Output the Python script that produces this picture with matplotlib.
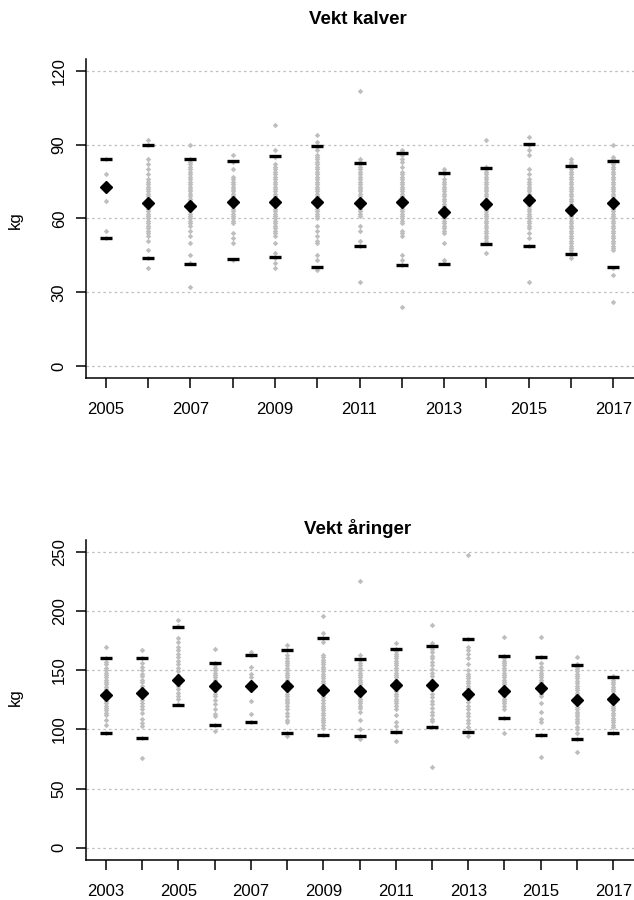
import numpy as np
import matplotlib
matplotlib.use("Agg")
import matplotlib.pyplot as plt

plt.rcParams['font.family'] = ['Liberation Sans', 'DejaVu Sans']

# =========================================================
# DONNÉES - Vekt kalver
# =========================================================

calf_years = list(range(2005, 2018))
calf_mean = [72.7, 66.3, 65.2, 66.9, 66.9, 66.6, 66.3, 66.9, 62.8, 65.8, 67.5, 63.4, 66.3]
calf_hi = [84.3, 90.0, 84.3, 83.2, 85.4, 89.3, 82.6, 86.5, 78.6, 80.4, 90.3, 81.5, 83.2]
calf_lo = [51.9, 43.9, 41.6, 43.4, 44.5, 40.4, 49.0, 41.1, 41.6, 49.5, 49.0, 45.5, 40.4]
calf_points = [
    [84, 78, 73, 67, 55, 52],
    [92, 90, 84, 82, 80, 78, 76, 75, 74, 73, 72, 71, 70, 69, 68, 67, 66, 65, 64, 63, 62, 61,
     60, 59, 58, 57, 56, 55, 54, 53, 51, 47, 44, 40],
    [90, 84, 83, 82, 81, 80, 79, 78, 77, 76, 75, 74, 73, 72, 71, 70, 69, 68, 67, 66, 65, 64,
     63, 62, 61, 60, 59, 58, 57, 55, 53, 50, 45, 42, 32],
    [86, 83, 80, 77, 76, 75, 74, 73, 72, 71, 70, 69, 68, 67, 66, 65, 64, 63, 62, 61, 60, 59,
     58, 54, 52, 50, 43],
    [98, 88, 85, 82, 81, 80, 79, 78, 77, 76, 75, 74, 73, 72, 71, 70, 69, 68, 67, 66, 65, 64,
     63, 62, 61, 60, 59, 58, 57, 56, 55, 54, 53, 50, 46, 44, 42, 40],
    [94, 91, 89, 88, 86, 85, 84, 83, 82, 81, 80, 79, 78, 77, 76, 75, 74, 73, 72, 71, 70, 69,
     68, 67, 66, 65, 64, 63, 62, 61, 60, 57, 55, 53, 51, 50, 45, 43, 40, 39],
    [112, 84, 83, 82, 81, 80, 79, 78, 77, 76, 75, 74, 73, 72, 71, 70, 69, 68, 67, 66, 65, 64,
     63, 62, 61, 57, 55, 51, 49, 34],
    [88, 87, 86, 84, 83, 81, 79, 78, 77, 76, 75, 74, 73, 72, 71, 70, 69, 68, 67, 66, 65, 64,
     63, 62, 61, 60, 59, 58, 55, 54, 53, 45, 43, 41, 24],
    [80, 79, 78, 76, 75, 74, 73, 72, 71, 70, 69, 68, 67, 66, 65, 64, 63, 62, 61, 60, 59, 58,
     57, 56, 55, 54, 50, 43, 42],
    [92, 81, 80, 79, 78, 77, 76, 75, 74, 73, 72, 71, 70, 69, 68, 67, 66, 65, 64, 63, 62, 61,
     60, 59, 58, 57, 56, 55, 54, 53, 52, 51, 50, 46],
    [93, 90, 88, 86, 80, 78, 76, 75, 74, 73, 72, 71, 70, 69, 68, 67, 66, 65, 64, 63, 62, 61,
     60, 59, 58, 57, 56, 54, 52, 49, 34],
    [84, 83, 82, 81, 80, 79, 78, 77, 76, 75, 74, 73, 72, 71, 70, 69, 68, 67, 66, 65, 64, 63,
     62, 61, 60, 59, 58, 57, 56, 55, 54, 53, 52, 51, 50, 49, 48, 47, 46, 45, 44],
    [90, 85, 84, 83, 82, 81, 80, 79, 78, 77, 76, 75, 74, 73, 72, 71, 70, 69, 68, 67, 66, 65,
     64, 63, 62, 61, 60, 59, 58, 57, 56, 55, 54, 53, 52, 51, 50, 49, 48, 47, 40, 37, 26],
]
calf_yticks = [0, 30, 60, 90, 120]

# =========================================================
# DONNÉES - Vekt åringer
# =========================================================

yearling_years = list(range(2003, 2018))
yearling_mean = [129.0, 130.7, 141.9, 136.9, 136.3, 136.3, 133.2, 132.6, 137.2, 137.2,
                 130.1, 132.6, 134.9, 124.5, 125.6]
yearling_hi = [160.5, 160.5, 186.7, 155.7, 163.0, 166.7, 177.4, 159.4, 167.6, 170.1,
               176.0, 161.9, 160.8, 154.6, 144.2]
yearling_lo = [96.6, 92.9, 120.3, 103.6, 106.2, 96.6, 95.4, 94.3, 98.0, 102.2,
               98.0, 109.5, 95.4, 91.8, 96.6]
yearling_points = [
    [170, 160, 157, 155, 152, 150, 148, 146, 144, 142, 140, 138, 136, 134, 132, 130, 128,
     126, 124, 122, 120, 118, 116, 114, 112, 108, 104, 97],
    [167, 160, 156, 153, 150, 147, 145, 142, 140, 137, 134, 131, 128, 125, 122, 120, 117,
     114, 109, 105, 103, 93, 76],
    [192, 187, 177, 174, 170, 167, 164, 161, 158, 155, 152, 149, 146, 143, 140, 137, 134,
     131, 128, 126, 121],
    [168, 156, 154, 152, 150, 148, 146, 144, 142, 140, 138, 136, 134, 132, 130, 128, 125,
     121, 117, 113, 111, 104, 99],
    [165, 163, 153, 147, 144, 140, 136, 124, 113, 106],
    [171, 167, 163, 160, 158, 156, 154, 152, 150, 148, 146, 144, 142, 140, 138, 136, 134,
     132, 130, 128, 126, 124, 122, 120, 117, 114, 111, 108, 106, 97, 94],
    [196, 181, 177, 174, 163, 161, 159, 157, 155, 153, 151, 149, 147, 145, 143, 141, 139,
     137, 135, 133, 131, 129, 127, 125, 122, 120, 118, 116, 114, 112, 110, 108, 106, 104,
     101, 95],
    [225, 163, 159, 156, 154, 152, 150, 148, 146, 144, 142, 140, 138, 136, 134, 132, 130,
     128, 126, 124, 122, 120, 118, 115, 108, 100, 94, 92],
    [173, 168, 166, 164, 162, 160, 158, 156, 154, 152, 150, 148, 146, 144, 142, 140, 138,
     136, 134, 132, 130, 128, 126, 124, 122, 120, 117, 112, 106, 103, 98, 90],
    [188, 173, 170, 168, 165, 162, 160, 157, 154, 151, 148, 145, 142, 139, 136, 133, 130,
     127, 124, 121, 118, 115, 112, 109, 107, 102, 68],
    [247, 176, 170, 167, 164, 160, 155, 150, 147, 145, 143, 141, 139, 137, 135, 133, 131,
     129, 126, 123, 120, 117, 114, 111, 108, 105, 102, 98, 94],
    [178, 162, 160, 158, 156, 154, 152, 150, 148, 146, 144, 142, 140, 138, 136, 134, 132,
     130, 128, 126, 124, 122, 120, 117, 110, 97],
    [178, 161, 156, 153, 150, 148, 146, 144, 142, 140, 138, 136, 134, 132, 130, 128, 122,
     115, 109, 106, 95, 77],
    [161, 155, 153, 151, 149, 147, 145, 143, 141, 139, 137, 135, 133, 131, 129, 127, 125,
     123, 121, 119, 117, 115, 113, 111, 109, 107, 105, 102, 100, 97, 92, 81],
    [145, 144, 142, 140, 138, 136, 134, 132, 130, 128, 126, 124, 122, 120, 118, 116, 114,
     112, 110, 108, 106, 104, 102, 97],
]
yearling_yticks = [0, 50, 100, 150, 200, 250]

# =========================================================
# FONCTION DE TRACÉ
# =========================================================


def draw_panel(ax, years, points, mean, lo, hi, yticks):
    for yr, vals in zip(years, points):
        ax.plot([yr] * len(vals), vals, linestyle="none", marker="D",
                ms=2.8, color="#BEBEBE", mec="none", zorder=2)
    ax.plot(years, hi, linestyle="none", marker="_", ms=8, mew=2.4, color="black", zorder=3)
    ax.plot(years, lo, linestyle="none", marker="_", ms=8, mew=2.4, color="black", zorder=3)
    ax.plot(years, mean, linestyle="none", marker="D", ms=6.5, color="black", zorder=4)

    span = yticks[-1] - yticks[0]
    ax.set_ylim(yticks[0] - 0.04 * span, yticks[-1] + 0.04 * span)
    xspan = years[-1] - years[0]
    ax.set_xlim(years[0] - 0.04 * xspan, years[-1] + 0.04 * xspan)

    for t in yticks:
        ax.axhline(t, color="#BEBEBE", lw=0.9, linestyle=(0, (2, 2.5)), zorder=1)

    ax.set_yticks(yticks)
    ax.set_yticklabels([str(t) for t in yticks], rotation=90, va="center")
    ax.set_xticks(years)
    ax.set_xticklabels([str(y) if (y - years[0]) % 2 == 0 else "" for y in years])

    for s in ["top", "right"]:
        ax.spines[s].set_visible(False)
    for s in ["left", "bottom"]:
        ax.spines[s].set_linewidth(1.1)
    ax.tick_params(axis="both", direction="out", length=7.5, width=1.1,
                   labelsize=12, colors="black")
    ax.tick_params(axis="x", pad=10)
    ax.tick_params(axis="y", pad=6)


fig = plt.figure(figsize=(6.34, 9.0), dpi=100)

ax1 = fig.add_axes([85.5 / 634, 1 - 378 / 900, 548 / 634, 319 / 900])
draw_panel(ax1, calf_years, calf_points, calf_mean, calf_lo, calf_hi, calf_yticks)

ax2 = fig.add_axes([85.5 / 634, 1 - 859.5 / 900, 548 / 634, 319.5 / 900])
draw_panel(ax2, yearling_years, yearling_points, yearling_mean, yearling_lo, yearling_hi,
           yearling_yticks)

fig.text(358 / 634, 1 - 20 / 900, "Vekt kalver", ha="center", va="center",
         fontsize=13.5, fontweight="bold")
fig.text(358 / 634, 1 - 528 / 900, "Vekt åringer", ha="center", va="center",
         fontsize=13.5, fontweight="bold")
fig.text(15 / 634, 1 - 220 / 900, "kg", rotation=90, ha="center", va="center", fontsize=12)
fig.text(15 / 634, 1 - 697 / 900, "kg", rotation=90, ha="center", va="center", fontsize=12)

fig.savefig("out.png", dpi=100)
